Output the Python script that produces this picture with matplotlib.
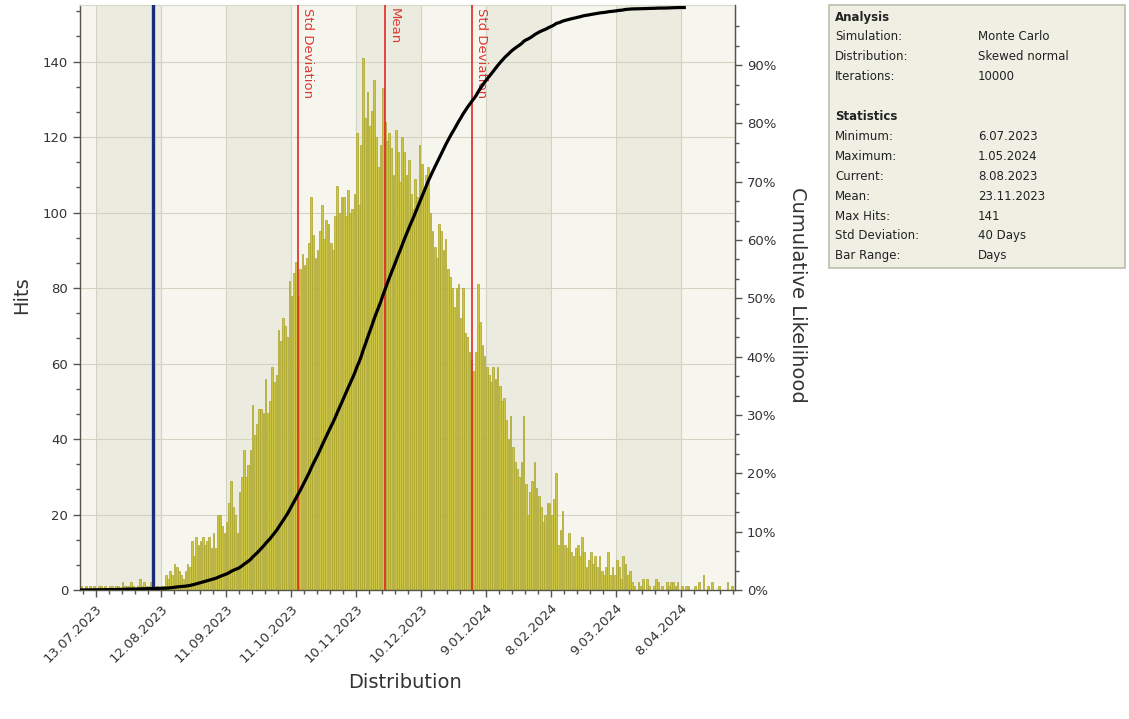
import matplotlib
matplotlib.use("Agg")
import matplotlib.pyplot as plt
import matplotlib.dates as mdates
from matplotlib.patches import Rectangle
from matplotlib.ticker import FixedLocator, FuncFormatter
import numpy as np
from datetime import datetime

# ---------------- data ----------------
start_date = "6.07.2023"   # first daily bin
hits = [
    1, 0, 1, 0, 1, 0, 1, 0, 1, 1,
    0, 1, 0, 1, 1, 0, 1, 1, 0, 2,
    1, 1, 1, 2, 1, 0, 1, 3, 1, 2,
    1, 1, 2, 1, 0, 1, 0, 1, 1, 4,
    3, 5, 4, 7, 6, 5, 4, 3, 5, 7,
    6, 13, 9, 14, 12, 13, 14, 12, 13, 14,
    11, 15, 11, 20, 20, 17, 15, 18, 23, 29,
    22, 20, 15, 26, 30, 37, 30, 33, 37, 49,
    41, 44, 48, 48, 47, 56, 47, 50, 59, 55,
    57, 69, 66, 72, 70, 67, 82, 78, 84, 87,
    78, 85, 89, 86, 88, 92, 104, 94, 88, 90,
    95, 102, 93, 98, 97, 92, 90, 99, 107, 100,
    104, 104, 99, 106, 100, 101, 105, 121, 102, 118,
    141, 125, 132, 123, 127, 135, 120, 112, 118, 133,
    124, 119, 121, 117, 110, 122, 116, 108, 120, 116,
    110, 114, 105, 101, 109, 104, 118, 113, 106, 110,
    112, 100, 95, 91, 88, 97, 95, 90, 93, 85,
    83, 80, 75, 80, 81, 72, 80, 68, 67, 63,
    61, 58, 63, 81, 71, 65, 62, 59, 57, 55,
    59, 56, 59, 54, 50, 51, 45, 40, 46, 38,
    34, 32, 30, 34, 46, 28, 20, 26, 29, 34,
    27, 25, 22, 18, 20, 23, 23, 20, 24, 31,
    12, 16, 21, 12, 11, 15, 10, 9, 11, 12,
    9, 14, 10, 6, 8, 10, 7, 9, 6, 9,
    5, 4, 6, 10, 4, 6, 4, 8, 6, 3,
    9, 7, 4, 5, 2, 1, 0, 2, 1, 3,
    0, 3, 1, 0, 1, 3, 2, 0, 1, 0,
    2, 1, 2, 2, 1, 2, 0, 1, 0, 1,
    1, 0, 0, 1, 0, 2, 0, 4, 0, 1,
    0, 2, 0, 0, 1, 0, 0, 0, 2, 0, 1,
]
tick_labels = ["13.07.2023", "12.08.2023", "11.09.2023", "11.10.2023",
               "10.11.2023", "10.12.2023", "9.01.2024", "8.02.2024",
               "9.03.2024", "8.04.2024"]
current_date = "8.08.2023"
mean_date = "23.11.2023"
std_days = 40
cum_end_date = "9.04.2024"
hits_ticks = [0, 20, 40, 60, 80, 100, 120, 140]
pct_ticks = [0, 10, 20, 30, 40, 50, 60, 70, 80, 90]

panel_rows = [
    ("Analysis", None, True),
    ("Simulation:", "Monte Carlo", False),
    ("Distribution:", "Skewed normal", False),
    ("Iterations:", "10000", False),
    ("", None, False),
    ("Statistics", None, True),
    ("Minimum:", "6.07.2023", False),
    ("Maximum:", "1.05.2024", False),
    ("Current:", "8.08.2023", False),
    ("Mean:", "23.11.2023", False),
    ("Max Hits:", "141", False),
    ("Std Deviation:", "40 Days", False),
    ("Bar Range:", "Days", False),
]

# ---------------- helpers ----------------
def d(s):
    return mdates.date2num(datetime.strptime(s, "%d.%m.%Y"))

def fmt(v, pos=None):
    dt = mdates.num2date(v)
    return f"{dt.day}.{dt.month:02d}.{dt.year}"

W, H = 1129, 719
fig = plt.figure(figsize=(W / 100, H / 100), dpi=100)
fig.patch.set_facecolor("white")
ax = fig.add_axes([80 / W, 1 - 590 / H, (735 - 80) / W, (590 - 5) / H])

x0 = d(start_date)
xs = x0 + np.arange(len(hits))
hits_arr = np.array(hits, dtype=float)

ticks = [d(t) for t in tick_labels]
ax.set_xlim(x0 - 0.2, xs[-1] + 1.9)
ax.set_ylim(0, 155)

# alternating background bands
ax.set_facecolor("#f6f6ef")
for i in range(0, len(ticks) - 1, 2):
    ax.axvspan(ticks[i], ticks[i + 1], color="#ebebdf", zorder=0, lw=0)

ax.grid(True, which="major", color="#d3d3c2", lw=0.8, zorder=0.5)
ax.set_axisbelow(True)

ax.bar(xs, hits_arr, width=0.8, align="edge", color="#ccc644",
       edgecolor="#aaa32a", linewidth=0.5, zorder=2)

# reference lines
cur = d(current_date)
mean = d(mean_date)
ax.axvline(cur + 0.5, color="#1b2a7a", lw=2.4, zorder=3)
for xv, lab in [(mean - std_days, "Std Deviation"), (mean, "Mean"),
                (mean + std_days, "Std Deviation")]:
    ax.axvline(xv + 0.5, color="#e4262a", lw=1.2, zorder=3)
    ax.text(xv + 1.8, 154.3, lab, rotation=-90, ha="left", va="top",
            color="#d93b36", fontsize=9.5, zorder=3)

# axes styling
ax.xaxis.set_major_locator(FixedLocator(ticks))
ax.xaxis.set_major_formatter(FuncFormatter(fmt))
ax.xaxis.set_minor_locator(FixedLocator(np.arange(ticks[0] - 6, xs[-1] + 2, 6)))
ax.set_yticks(hits_ticks)
ax.yaxis.set_minor_locator(FixedLocator(np.arange(0, 155, 20 / 3)))
ax.tick_params(axis="both", which="major", direction="out", length=5,
               width=1, color="#555548", labelsize=9.5, labelcolor="#333333")
ax.tick_params(axis="both", which="minor", direction="out", length=3,
               width=1, color="#555548")
for lbl in ax.get_xticklabels():
    lbl.set_rotation(45)
    lbl.set_ha("right")
    lbl.set_rotation_mode("anchor")
for s in ["left", "bottom", "right"]:
    ax.spines[s].set_color("#555548")
    ax.spines[s].set_linewidth(1.0)
ax.spines["top"].set_color("#d8d8c8")

# cumulative likelihood
cum = np.cumsum(hits_arr) / hits_arr.sum() * 100
ax2 = ax.twinx()
end_idx = int(round(d(cum_end_date) - x0))
ax2.plot(xs[:end_idx + 1] + 0.5, cum[:end_idx + 1], color="black", lw=2.3,
         zorder=5)
ax2.set_ylim(0, 100.3)
ax2.set_yticks(pct_ticks)
ax2.set_yticklabels([f"{p}%" for p in pct_ticks])
ax2.yaxis.set_minor_locator(FixedLocator(np.arange(0, 100, 10 / 3)))
ax2.tick_params(axis="y", which="major", direction="out", length=5, width=1,
                color="#555548", labelsize=9.5, labelcolor="#333333")
ax2.tick_params(axis="y", which="minor", direction="out", length=3, width=1,
                color="#555548")
for s in ["left", "bottom", "top"]:
    ax2.spines[s].set_visible(False)
ax2.spines["right"].set_color("#555548")

# axis titles
fig.text(22 / W, 1 - 295 / H, "Hits", rotation=90, ha="center", va="center",
         fontsize=14, color="#333333")
fig.text(797 / W, 1 - 295 / H, "Cumulative Likelihood", rotation=-90,
         ha="center", va="center", fontsize=14, color="#333333")
fig.text(405 / W, 1 - 683 / H, "Distribution", ha="center", va="center",
         fontsize=14, color="#333333")

# info panel
fig.add_artist(Rectangle((829 / W, 1 - 268 / H), (1125 - 829) / W, (268 - 5) / H,
                         transform=fig.transFigure, facecolor="#efefe4",
                         edgecolor="#bdbdad", lw=1.2))
y = 17
for lab, val, bold in panel_rows:
    if lab:
        fig.text(835 / W, 1 - y / H, lab, ha="left", va="center", fontsize=8.5,
                 color="#222222", fontweight="bold" if bold else "normal")
    if val:
        fig.text(978 / W, 1 - y / H, val, ha="left", va="center", fontsize=8.5,
                 color="#222222")
    y += 19.9

fig.savefig("out.png", dpi=100)
